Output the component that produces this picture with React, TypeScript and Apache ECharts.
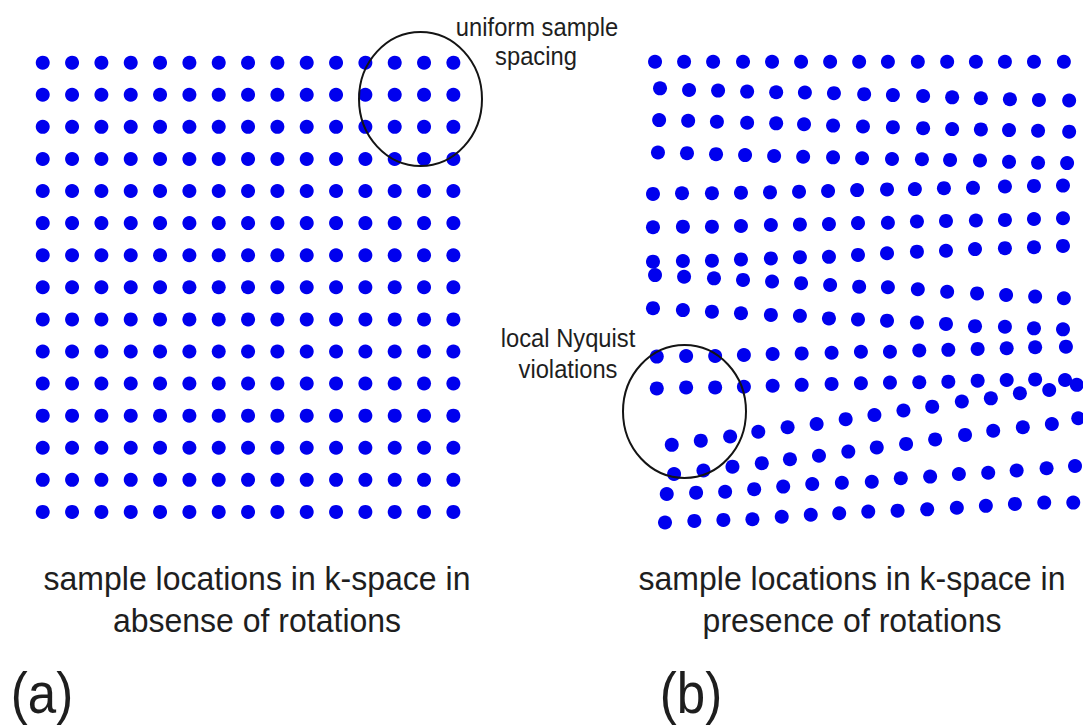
import React, { useEffect, useRef } from "react";
import * as echarts from "echarts";

// k-space sample grid without rotations (a)
const uniformKx = [-7, -6, -5, -4, -3, -2, -1, 0, 1, 2, 3, 4, 5, 6, 7];
const uniformKy = [7, 6, 5, 4, 3, 2, 1, 0, -1, -2, -3, -4, -5, -6, -7];

// k-space samples in presence of rotations (b), one array per acquired line: [kx, ky]
const rot01 = [[-7, 7.03], [-6.01, 7.03], [-5.02, 7.03], [-4.0, 7.03], [-3.01, 7.03], [-2.02, 7.03], [-1.03, 7.03], [-0.04, 7.03], [0.94, 7.03], [1.96, 7.03], [2.96, 7.03], [3.94, 7.03], [4.93, 7.03], [5.92, 7.03], [6.94, 7.03]];
const rot02 = [[-6.83, 6.2], [-5.84, 6.15], [-4.85, 6.13], [-3.86, 6.1], [-2.87, 6.08], [-1.89, 6.07], [-0.9, 6.05], [0.13, 6.02], [1.11, 5.99], [2.14, 5.96], [3.13, 5.92], [4.11, 5.89], [5.1, 5.86], [6.09, 5.84], [7.12, 5.82]];
const rot03 = [[-6.86, 5.21], [-5.87, 5.19], [-4.89, 5.16], [-3.86, 5.13], [-2.87, 5.11], [-1.92, 5.08], [-0.93, 5.04], [0.09, 5.01], [1.11, 4.99], [2.14, 4.96], [3.13, 4.93], [4.11, 4.92], [5.07, 4.9], [6.06, 4.88], [7.12, 4.85]];
const rot04 = [[-6.9, 4.2], [-5.91, 4.18], [-4.92, 4.15], [-3.93, 4.12], [-2.94, 4.09], [-1.95, 4.07], [-0.93, 4.05], [0.06, 4.02], [1.08, 4.0], [2.1, 3.99], [3.06, 3.97], [4.08, 3.95], [5.07, 3.91], [6.06, 3.88], [7.05, 3.87]];
const rot05 = [[-7.07, 2.91], [-6.08, 2.93], [-5.06, 2.93], [-4.07, 2.95], [-3.08, 2.96], [-2.09, 2.98], [-1.1, 3.0], [-0.11, 3.03], [0.91, 3.05], [1.86, 3.06], [2.85, 3.09], [3.84, 3.1], [4.93, 3.14], [5.92, 3.16], [6.91, 3.17]];
const rot06 = [[-7.07, 1.87], [-6.05, 1.89], [-5.06, 1.89], [-4.07, 1.91], [-3.05, 1.94], [-2.06, 1.96], [-1.07, 1.97], [-0.08, 2.0], [0.94, 2.01], [1.93, 2.05], [2.92, 2.07], [3.94, 2.08], [4.93, 2.1], [5.92, 2.13], [6.91, 2.15]];
const rot07 = [[-7.07, 0.8], [-6.05, 0.82], [-5.06, 0.83], [-4.07, 0.87], [-3.05, 0.9], [-2.06, 0.94], [-1.07, 0.95], [-0.08, 1.01], [0.91, 1.06], [1.93, 1.11], [2.92, 1.14], [3.91, 1.19], [4.93, 1.22], [5.92, 1.25], [6.91, 1.29]];
const rot08 = [[-7, 0.38], [-6.01, 0.33], [-4.99, 0.28], [-4.0, 0.23], [-3.01, 0.18], [-2.02, 0.13], [-1.03, 0.07], [-0.04, 0.02], [0.94, 0.0], [1.96, -0.06], [2.96, -0.14], [3.98, -0.19], [4.97, -0.24], [5.96, -0.29], [6.94, -0.34]];
const rot09 = [[-7.07, -0.65], [-6.05, -0.71], [-5.06, -0.76], [-4.07, -0.81], [-3.05, -0.86], [-2.06, -0.89], [-1.07, -0.97], [-0.08, -1.0], [0.91, -1.04], [1.93, -1.1], [2.92, -1.14], [3.91, -1.21], [4.93, -1.23], [5.92, -1.28], [6.91, -1.31]];
const rot10 = [[-6.94, -2.16], [-5.94, -2.14], [-4.95, -2.14], [-3.97, -2.11], [-2.99, -2.08], [-2.0, -2.06], [-0.98, -2.04], [0.02, -2.01], [1.01, -2.01], [2.01, -1.97], [3.0, -1.95], [4.0, -1.92], [4.99, -1.9], [5.96, -1.87], [7.01, -1.85]];
const rot11 = [[-6.94, -3.15], [-5.94, -3.12], [-4.95, -3.12], [-3.97, -3.1], [-2.99, -3.07], [-2.0, -3.04], [-0.98, -3.01], [0.02, -2.99], [1.01, -2.97], [2.01, -2.96], [3.0, -2.94], [4.0, -2.91], [4.99, -2.89], [5.96, -2.87], [6.98, -2.89]];
const rot12 = [[-6.43, -4.91], [-5.44, -4.78], [-4.44, -4.65], [-3.48, -4.5], [-2.48, -4.36], [-1.49, -4.26], [-0.5, -4.11], [0.48, -3.98], [1.47, -3.84], [2.45, -3.72], [3.46, -3.56], [4.45, -3.46], [5.44, -3.3], [6.44, -3.2], [7.38, -3.04]];
const rot13 = [[-6.35, -5.82], [-5.35, -5.71], [-4.36, -5.59], [-3.36, -5.48], [-2.4, -5.36], [-1.41, -5.25], [-0.41, -5.12], [0.56, -4.99], [1.56, -4.88], [2.55, -4.74], [3.57, -4.6], [4.53, -4.47], [5.54, -4.36], [6.53, -4.26], [7.43, -4.08]];
const rot14 = [[-6.6, -6.44], [-5.6, -6.4], [-4.61, -6.37], [-3.62, -6.29], [-2.63, -6.21], [-1.64, -6.13], [-0.63, -6.09], [0.39, -6.06], [1.38, -5.95], [2.38, -5.9], [3.36, -5.82], [4.36, -5.78], [5.33, -5.71], [6.35, -5.64], [7.32, -5.57]];
const rot15 = [[-6.66, -7.33], [-5.66, -7.28], [-4.67, -7.25], [-3.68, -7.23], [-2.68, -7.15], [-1.69, -7.09], [-0.72, -7.04], [0.27, -6.99], [1.27, -6.96], [2.28, -6.92], [3.29, -6.87], [4.28, -6.81], [5.27, -6.75], [6.27, -6.71], [7.26, -6.71]];
const rotatedLines = [rot01, rot02, rot03, rot04, rot05, rot06, rot07, rot08, rot09, rot10, rot11, rot12, rot13, rot14, rot15];

const annotationA = ["uniform sample", "spacing"];
const annotationB = ["local Nyquist", "violations"];
const captionA = ["sample locations in k-space in", "absense of rotations"];
const captionB = ["sample locations in k-space in", "presence of rotations"];
const panelLabels = ["(a)", "(b)"];

const DOT = "#0000ee";
const INK = "#1e1e1e";
const FONT = "'Liberation Sans', Arial, sans-serif";

function txt(text: string, x: number, y: number, size: number, extra: any = {}) {
  return {
    type: "text",
    x,
    y,
    z: 10,
    ...extra,
    style: {
      text,
      fill: INK,
      font: `${size}px ${FONT}`,
      textAlign: "center",
      textVerticalAlign: "middle",
      align: "center",
      verticalAlign: "middle",
    },
  };
}

export default function App() {
  const ref = useRef<HTMLDivElement>(null);
  useEffect(() => {
    document.body.style.margin = "0";
    if (!ref.current) return;
    const chart = echarts.init(ref.current, undefined, { renderer: "svg" });

    const uniformPoints: number[][] = [];
    uniformKy.forEach((ky) => uniformKx.forEach((kx) => uniformPoints.push([kx, ky])));
    const rotatedPoints: number[][] = [];
    rotatedLines.forEach((line) => line.forEach((p) => rotatedPoints.push(p)));

    const option: any = {
      animation: false,
      backgroundColor: "#ffffff",
      grid: [
        { left: 13.4, top: 30.6, width: 469.3, height: 513.4, containLabel: false, outerBoundsMode: "none" },
        { left: 625.7, top: 30.6, width: 454.6, height: 513.4, containLabel: false, outerBoundsMode: "none" },
      ],
      xAxis: [
        { gridIndex: 0, type: "value", min: -8, max: 8, show: false, splitLine: { show: false } },
        { gridIndex: 1, type: "value", min: -8, max: 7.5, show: false, splitLine: { show: false } },
      ],
      yAxis: [
        { gridIndex: 0, type: "value", min: -8, max: 8, show: false, splitLine: { show: false } },
        { gridIndex: 1, type: "value", min: -8, max: 8, show: false, splitLine: { show: false } },
      ],
      series: [
        {
          type: "scatter",
          xAxisIndex: 0,
          yAxisIndex: 0,
          data: uniformPoints,
          symbol: "circle",
          symbolSize: 14,
          itemStyle: { color: DOT, opacity: 1 },
          clip: false,
          silent: true,
        },
        {
          type: "scatter",
          xAxisIndex: 1,
          yAxisIndex: 1,
          data: rotatedPoints,
          symbol: "circle",
          symbolSize: 14,
          itemStyle: { color: DOT, opacity: 1 },
          clip: false,
          silent: true,
        },
      ],
      graphic: [
        {
          type: "ellipse",
          z: 10,
          shape: { cx: 420.5, cy: 99, rx: 61.5, ry: 67 },
          style: { fill: "none", stroke: "#141414", lineWidth: 2 },
        },
        {
          type: "ellipse",
          z: 10,
          shape: { cx: 684.5, cy: 411.5, rx: 61.5, ry: 66.5 },
          style: { fill: "none", stroke: "#141414", lineWidth: 2 },
        },
        txt(annotationA[0], 537, 27.6, 25, { scaleX: 0.95 }),
        txt(annotationA[1], 536, 56.6, 25, { scaleX: 0.95 }),
        txt(annotationB[0], 568, 338.6, 25, { scaleX: 0.95 }),
        txt(annotationB[1], 568, 369.6, 25, { scaleX: 0.95 }),
        txt(captionA[0], 257, 578.8, 33, { scaleX: 0.97 }),
        txt(captionA[1], 257, 620.8, 33, { scaleX: 0.97 }),
        txt(captionB[0], 852, 578.8, 33, { scaleX: 0.97 }),
        txt(captionB[1], 852, 620.8, 33, { scaleX: 0.97 }),
        txt(panelLabels[0], 42, 693, 58, { scaleX: 0.88 }),
        txt(panelLabels[1], 691, 693, 58, { scaleX: 0.88 }),
      ],
    };
    chart.setOption(option);
    return () => chart.dispose();
  }, []);
  return <div ref={ref} style={{ width: 1083, height: 725 }} />;
}
